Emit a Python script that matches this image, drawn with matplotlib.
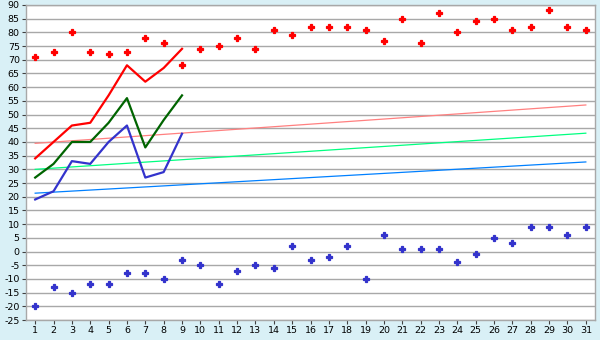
import matplotlib
matplotlib.use("Agg")
import matplotlib.pyplot as plt
import numpy as np

plt.rcParams["axes.unicode_minus"] = False

days = np.arange(1, 32)

# daily extremes (scatter)
high_points = [71, 73, 80, 73, 72, 73, 78, 76, 68, 74, 75, 78, 74, 81, 79, 82,
               82, 82, 81, 77, 85, 76, 87, 80, 84, 85, 81, 82, 88, 82, 81]
low_points = [-20, -13, -15, -12, -12, -8, -8, -10, -3, -5, -12, -7, -5, -6, 2, -3,
              -2, 2, -10, 6, 1, 1, 1, -4, -1, 5, 3, 9, 9, 6, 9]

# first nine days (lines)
line_days = np.arange(1, 10)
red_line = [34, 40, 46, 47, 57, 68, 62, 67, 74]
green_line = [27, 32, 40, 40, 47, 56, 38, 48, 57]
blue_line = [19, 22, 33, 32, 40, 46, 27, 29, 43]

# thin trend lines, start/end values at day 1 and day 31
trend_days = [1, 31]
red_trend = [39.5, 53.5]
green_trend = [30, 43.2]
blue_trend = [21.3, 32.7]

fig = plt.figure(figsize=(6, 3.4), dpi=100)
fig.patch.set_facecolor("#D9F0F6")
ax = fig.add_axes([26 / 600, 20 / 340, 569 / 600, 315 / 340])
ax.set_facecolor("white")

ax.set_xlim(0.5, 31.5)
ax.set_ylim(-25, 90)
ax.set_yticks(np.arange(-25, 91, 5))
ax.set_xticks(days)
ax.yaxis.grid(True, color="#A8A8A8", linewidth=1.0)
ax.set_axisbelow(True)
for side in ax.spines.values():
    side.set_color("#A8A8A8")
    side.set_linewidth(1.0)
ax.tick_params(axis="both", labelsize=6.8, color="#404040", length=3, width=0.8, pad=1.5)

ax.plot(trend_days, red_trend, color="#FF8080", linewidth=0.9)
ax.plot(trend_days, green_trend, color="#00FF80", linewidth=0.9)
ax.plot(trend_days, blue_trend, color="#0080FF", linewidth=0.9)

ax.plot(line_days, red_line, color="#FF0000", linewidth=1.6)
ax.plot(line_days, green_line, color="#006400", linewidth=1.6)
ax.plot(line_days, blue_line, color="#3333CC", linewidth=1.6)

ax.plot(days, high_points, linestyle="none", marker="P", markersize=4,
        color="#FF0000", markeredgewidth=0.9)
ax.plot(days, low_points, linestyle="none", marker="P", markersize=4,
        color="#3333CC", markeredgewidth=0.9)

fig.savefig("out.png", dpi=100, facecolor=fig.get_facecolor())
